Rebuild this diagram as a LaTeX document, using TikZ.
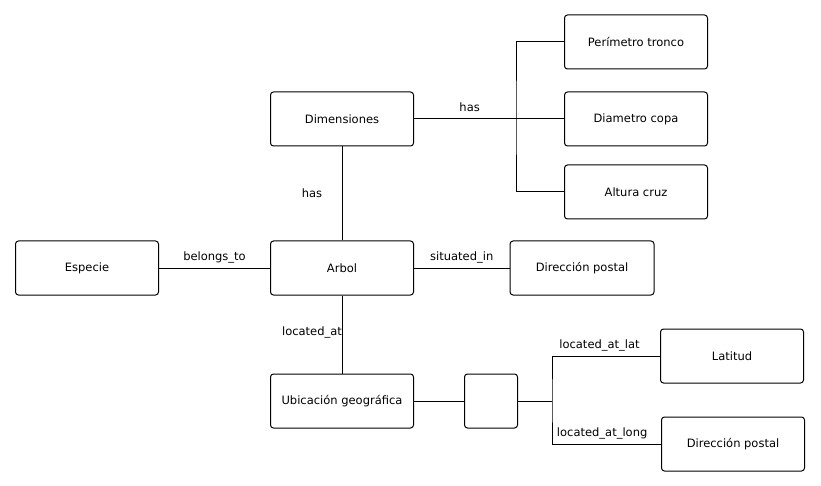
\documentclass[tikz,border=0pt]{standalone}
\usepackage{fontspec}
\setmainfont{DejaVu Sans}
\begin{document}
\begin{tikzpicture}[
  x=1pt,y=-1pt,
  entity/.style={draw,rounded corners=3pt,line width=1pt,minimum width=143pt,minimum height=54pt,inner sep=0pt,font=\fontsize{11.5}{13}\selectfont},
  hub/.style={entity,minimum width=53pt},
  link/.style={line width=1pt},
  lbl/.style={anchor=base,yshift=7.5pt,inner sep=0pt,font=\fontsize{11.5}{13}\selectfont},
  vlbl/.style={anchor=center,xshift=-30pt,inner sep=0pt,font=\fontsize{11.5}{13}\selectfont}
]
\useasboundingbox (0,0) rectangle (821,486);
\node[entity] (perimetro) at (636,42) {Perímetro tronco};
\node[entity] (diametro) at (636,119) {Diametro copa};
\node[entity] (altura) at (636,192) {Altura cruz};
\node[entity] (dimensiones) at (342,119) {Dimensiones};
\node[entity] (especie) at (87,268) {Especie};
\node[entity] (arbol) at (342,268) {Arbol};
\node[entity,minimum width=144pt] (direccion) at (582,268) {Dirección postal};
\node[entity] (ubicacion) at (342,401) {Ubicación geográfica};
\node[hub] (coords) at (491,401) {};
\node[entity] (latitud) at (732,356) {Latitud};
\node[entity] (longitud) at (733,444) {Dirección postal};
\coordinate (dimfork) at (516,119);
\coordinate (ubifork) at (552,401);
\draw[link] (dimensiones) -- node[lbl,pos=0.371] (hasdim) {has} (diametro);
\draw[link] (perimetro) -| (dimfork) |- (altura);
\draw[link] (dimensiones) -- node[vlbl] (hasarbol) {has} (arbol);
\draw[link] (especie) -- node[lbl] (belongs) {belongs\_to} (arbol);
\draw[link] (arbol) -- node[lbl] (situated) {situated\_in} (direccion);
\draw[link] (arbol) -- node[vlbl,pos=0.48] (located) {located\_at} (ubicacion);
\draw[link] (ubicacion) -- (coords);
\draw[link] (coords) -- (ubifork);
\draw[link] (latitud) -| node[lbl,pos=0.28] (lat) {located\_at\_lat} (ubifork)
  |- node[lbl,pos=0.73] (long) {located\_at\_long} (longitud);
\end{tikzpicture}
\end{document}
